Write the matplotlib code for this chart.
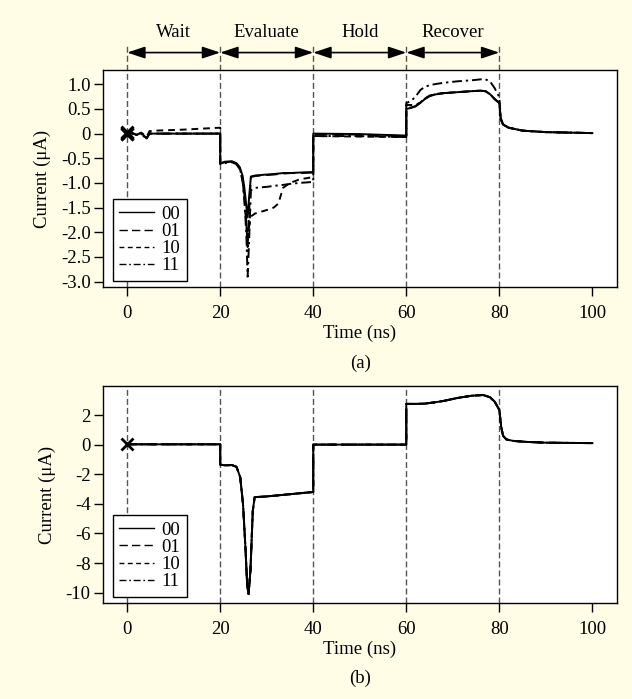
import matplotlib
matplotlib.use("Agg")
import matplotlib.pyplot as plt

plt.rcParams['font.family'] = ['Liberation Serif', 'DejaVu Serif']
plt.rcParams['font.size'] = 13.5

# ---------- DATA (a) ----------
t_a = [0, 1, 2, 3, 3.6, 4.2, 4.8, 6, 12, 20,
       20, 21, 22.5, 23.5, 24.2, 24.8, 25.2, 25.6, 25.9, 26.2,
       26.6, 27.5, 30, 31.5, 32.5, 33.5, 35, 37, 40,
       40, 50, 60,
       60, 61, 62, 63, 64, 65, 66, 68, 71, 74, 76, 77, 78, 79, 80,
       80.3, 80.8, 82, 85, 90, 100]

i_00 = [0.02, 0.0, -0.02, 0.01, -0.04, -0.1, 0.0, 0.0, 0.0, 0.0,
        -0.6, -0.57, -0.56, -0.6, -0.68, -0.85, -1.1, -1.45, -1.7, -1.3,
        -0.87, -0.85, -0.83, -0.82, -0.81, -0.8, -0.8, -0.79, -0.78,
        0.0, -0.01, -0.04,
        0.5, 0.52, 0.55, 0.62, 0.7, 0.76, 0.79, 0.82, 0.84, 0.86, 0.87, 0.86, 0.8, 0.7, 0.62,
        0.3, 0.18, 0.12, 0.06, 0.03, 0.01]

i_01 = [0.0, 0.02, -0.03, 0.0, -0.06, -0.08, 0.0, 0.0, 0.0, 0.0,
        -0.61, -0.58, -0.57, -0.61, -0.7, -0.9, -1.25, -1.8, -2.3, -1.6,
        -0.88, -0.86, -0.84, -0.83, -0.82, -0.81, -0.8, -0.8, -0.79,
        -0.01, -0.02, -0.05,
        0.52, 0.53, 0.56, 0.63, 0.71, 0.76, 0.79, 0.82, 0.84, 0.86, 0.87, 0.86, 0.8, 0.7, 0.62,
        0.3, 0.18, 0.12, 0.06, 0.03, 0.01]

i_10 = [0.03, 0.01, -0.03, 0.02, -0.02, -0.06, 0.05, 0.06, 0.08, 0.12,
        -0.6, -0.58, -0.57, -0.62, -0.72, -0.95, -1.3, -1.8, -2.2, -1.9,
        -1.68, -1.62, -1.55, -1.5, -1.42, -1.1, -1.0, -0.93, -0.88,
        -0.05, -0.06, -0.07,
        0.58, 0.58, 0.58, 0.63, 0.71, 0.77, 0.8, 0.82, 0.84, 0.86, 0.87, 0.86, 0.8, 0.7, 0.62,
        0.3, 0.18, 0.12, 0.06, 0.03, 0.01]

i_11 = [0.0, 0.01, -0.02, 0.0, -0.05, -0.09, 0.0, 0.0, 0.0, 0.0,
        -0.62, -0.6, -0.58, -0.62, -0.7, -0.95, -1.35, -2.0, -2.9, -2.2,
        -1.15, -1.1, -1.08, -1.06, -1.05, -1.04, -1.02, -1.0, -0.98,
        -0.05, -0.05, -0.07,
        0.62, 0.66, 0.75, 0.88, 0.95, 0.98, 1.0, 1.03, 1.06, 1.08, 1.1, 1.1, 1.06, 0.92, 0.74,
        0.32, 0.19, 0.12, 0.06, 0.03, 0.01]

# ---------- DATA (b) ----------
t_b = [0, 20, 20, 21, 22.5, 23.5, 24.3, 24.9, 25.4, 25.8, 26.1, 26.5, 27, 27.4,
       30, 35, 40, 40, 50, 60, 60, 62, 64, 66, 68, 71, 74, 76.5, 78, 79, 80,
       80.4, 80.8, 81.5, 83, 86, 90, 100]
i_b = [0.02, 0.02, -1.35, -1.4, -1.38, -1.5, -2.2, -4.0, -6.8, -9.5, -10.1, -8.5, -4.5, -3.55,
       -3.5, -3.35, -3.2, 0.0, 0.0, 0.0, 2.75, 2.75, 2.77, 2.85, 2.95, 3.15, 3.3, 3.35, 3.2, 2.9, 2.35,
       1.2, 0.6, 0.35, 0.25, 0.18, 0.13, 0.1]

labels = ['00', '01', '10', '11']
phases = ['Wait', 'Evaluate', 'Hold', 'Recover']
phase_edges = [0, 20, 40, 60, 80]

yt_a = [1.0, 0.5, 0, -0.5, -1.0, -1.5, -2.0, -2.5, -3.0]
ytl_a = ['1.0', '0.5', '0', '-0.5', '-1.0', '-1.5', '-2.0', '-2.5', '-3.0']
yt_b = [2, 0, -2, -4, -6, -8, -10]
ytl_b = ['2', '0', '-2', '-4', '-6', '-8', '-10']
xt = [0, 20, 40, 60, 80, 100]

styles = [dict(linestyle='-'),
          dict(linestyle=(0, (6, 3))),
          dict(linestyle=(0, (3.5, 2.5))),
          dict(linestyle=(0, (5, 2, 1.2, 2)))]

bg = '#fffde6'
fig = plt.figure(figsize=(6.32, 6.99), dpi=100, facecolor=bg)
ax1 = fig.add_axes([0.1622, 0.5887, 0.8141, 0.3112])
ax2 = fig.add_axes([0.1622, 0.1369, 0.8141, 0.3109])


def style_axes(ax, yt, ytl, ylim):
    ax.set_xlim(-5.3, 105.3)
    ax.set_ylim(*ylim)
    ax.set_xticks(xt)
    ax.set_xticklabels([str(v) for v in xt])
    ax.set_yticks(yt)
    ax.set_yticklabels(ytl)
    ax.tick_params(direction='out', length=6.5, width=1, pad=2, colors='black')
    ax.tick_params(axis='x', pad=6)
    for s in ax.spines.values():
        s.set_linewidth(1)
        s.set_color('black')
    ax.set_xlabel('Time (ns)', labelpad=2)
    ax.set_ylabel('Current (\u03bcA)', labelpad=7)


# ---------- (a) ----------
for x in phase_edges:
    ax1.plot([x, x], [0, 1.115], transform=ax1.get_xaxis_transform(), clip_on=False,
             color='#555555', lw=1, linestyle=(0, (4.3, 2.2)), zorder=1)
for y, st, lab in zip([i_00, i_01, i_10, i_11], styles, labels):
    ax1.plot(t_a, y, color='black', lw=1.4, label=lab, zorder=3, **st)
    ax1.plot(t_a[0], y[0], marker='x', color='black', ms=8, mew=2, zorder=4)

for k, name in enumerate(phases):
    x0, x1 = phase_edges[k], phase_edges[k + 1]
    ax1.annotate('', xy=(x1, 1.08), xytext=(x0, 1.08), xycoords=ax1.get_xaxis_transform(),
                 arrowprops=dict(arrowstyle='<|-|>,head_length=0.6,head_width=0.2',
                                 color='black', lw=1.2, shrinkA=0, shrinkB=0,
                                 mutation_scale=18))
    ax1.text((x0 + x1) / 2, 1.172, name, transform=ax1.get_xaxis_transform(),
             ha='center', va='center')

style_axes(ax1, yt_a, ytl_a, (-3.12, 1.29))

# ---------- (b) ----------
for x in phase_edges:
    ax2.axvline(x, color='#555555', lw=1, linestyle=(0, (4.3, 2.2)), zorder=1)
for st, lab in zip(styles, labels):
    ax2.plot(t_b, i_b, color='black', lw=1.4, label=lab, zorder=3, **st)
ax2.plot(t_b[0], i_b[0], marker='x', color='black', ms=8, mew=2, zorder=4)
style_axes(ax2, yt_b, ytl_b, (-10.72, 3.96))

for ax in (ax1, ax2):
    leg = ax.legend(loc='lower left', bbox_to_anchor=(0.02, 0.03), fancybox=False,
                    edgecolor='black', framealpha=1, handlelength=1.85,
                    handletextpad=0.4, labelspacing=0.0, borderpad=0.35,
                    borderaxespad=0)
    leg.get_frame().set_linewidth(1)
    for h in leg.get_lines():
        h.set_linewidth(1)

fig.text(0.5703, 1 - 363 / 699, '(a)', ha='center', va='center')
fig.text(0.5703, 1 - 678 / 699, '(b)', ha='center', va='center')

fig.savefig('out.png', dpi=100, facecolor=bg)
